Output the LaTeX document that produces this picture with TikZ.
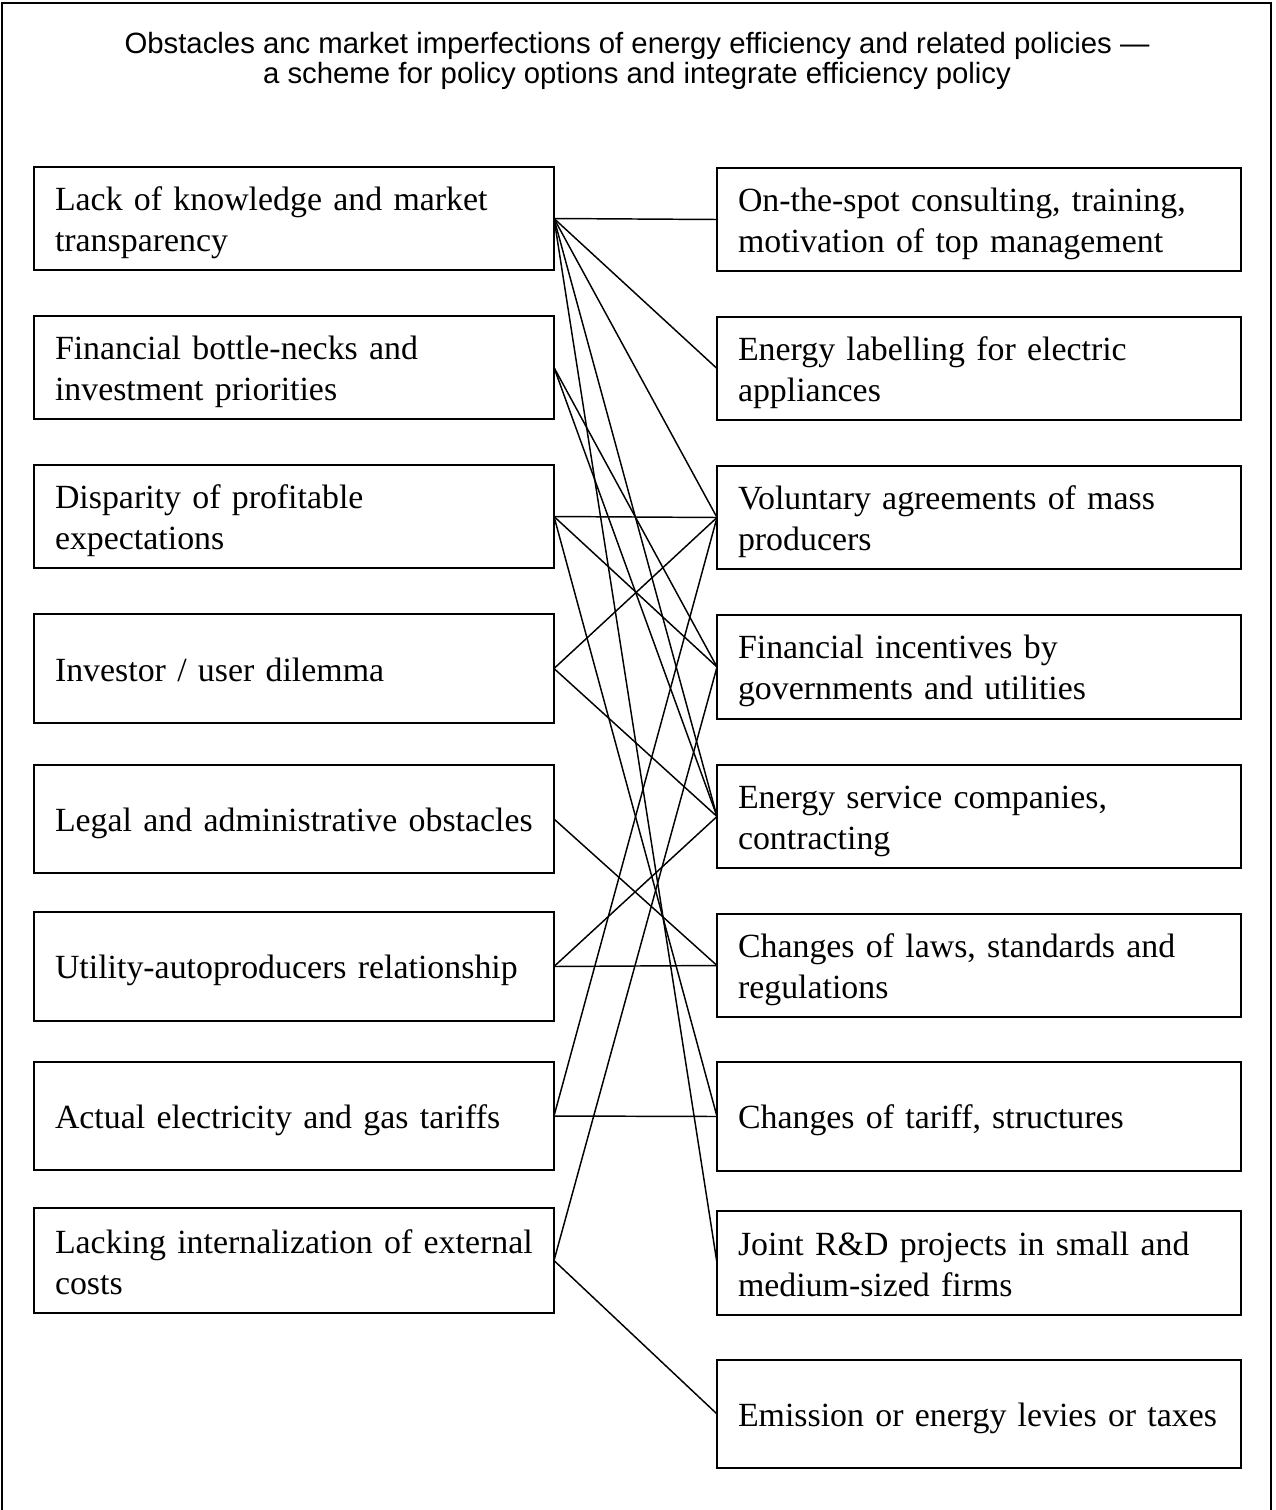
\documentclass[tikz,border=0pt]{standalone}
\usepackage{fontspec}
\setmainfont{Liberation Serif}
\newfontfamily\titlefont{Liberation Sans}
\newcommand\oneline[1]{\mbox{#1}}
\begin{document}
\begin{tikzpicture}[x=0.75pt,y=-0.75pt,
  box/.style={draw,line width=1.6pt,rectangle,inner xsep=15.75pt,inner ysep=0pt,outer sep=0pt,
    align=left,font=\fontsize{25.4}{30.75}\selectfont,
    execute at begin node={\rule{0pt}{24pt}},
    execute at end node={\rule[-4pt]{0pt}{4pt}}},
  lbox/.style={box,minimum width=390pt,text width=358.5pt},
  rbox/.style={box,minimum width=393pt,text width=361.5pt},
  conn/.style={line width=1.1pt}]
\useasboundingbox (0,0) rectangle (1275,1510);
\draw[line width=1pt] (2,1510) -- (2,3) -- (1271,3) -- (1271,1510);
\node[font=\titlefont\fontsize{22}{22.5}\selectfont,align=center] (title) at (637,61)
  {Obstacles anc market imperfections of energy efficiency and related policies —\\
   a scheme for policy options and integrate efficiency policy};
% left column
\node[lbox,minimum height=77.25pt] (L1) at (294,218.5) {\oneline{Lack of knowledge and market}\\transparency};
\node[lbox,minimum height=77.25pt] (L2) at (294,367.5) {\oneline{Financial bottle-necks and}\\investment priorities};
\node[lbox,minimum height=77.25pt] (L3) at (294,516.5) {\oneline{Disparity of profitable}\\expectations};
\node[lbox,minimum height=81.75pt] (L4) at (294,668.5) {\oneline{Investor / user dilemma}};
\node[lbox,minimum height=81pt] (L5) at (294,819) {\oneline{Legal and administrative obstacles}};
\node[lbox,minimum height=81.75pt] (L6) at (294,966.5) {\oneline{Utility-autoproducers relationship}};
\node[lbox,minimum height=81pt] (L7) at (294,1116) {\oneline{Actual electricity and gas tariffs}};
\node[lbox,minimum height=78.75pt] (L8) at (294,1260.5) {\oneline{Lacking internalization of external}\\costs};
% right column
\node[rbox,minimum height=77.25pt] (R1) at (979,219.5) {\oneline{On-the-spot consulting, training,}\\\oneline{motivation of top management}};
\node[rbox,minimum height=77.25pt] (R2) at (979,368.5) {\oneline{Energy labelling for electric}\\appliances};
\node[rbox,minimum height=77.25pt] (R3) at (979,517.5) {\oneline{Voluntary agreements of mass}\\producers};
\node[rbox,minimum height=78pt] (R4) at (979,667) {\oneline{Financial incentives by}\\\oneline{governments and utilities}};
\node[rbox,minimum height=77.25pt] (R5) at (979,816.5) {\oneline{Energy service companies,}\\contracting};
\node[rbox,minimum height=77.25pt] (R6) at (979,965.5) {\oneline{Changes of laws, standards and}\\regulations};
\node[rbox,minimum height=81.75pt] (R7) at (979,1116.5) {\oneline{Changes of tariff, structures}};
\node[rbox,minimum height=78pt] (R8) at (979,1263) {\oneline{Joint R\&D projects in small and}\\\oneline{medium-sized firms}};
\node[rbox,minimum height=81pt] (R9) at (979,1414) {\oneline{Emission or energy levies or taxes}};
% connectors
\foreach \a/\b in {L1/R1,L1/R2,L1/R3,L1/R5,L1/R8,
                   L2/R4,L2/R5,
                   L3/R3,L3/R4,L3/R7,
                   L4/R3,L4/R5,
                   L5/R6,
                   L6/R5,L6/R6,
                   L7/R3,L7/R7,
                   L8/R4,L8/R9}
  \draw[conn] (\a.east) -- (\b.west);
\end{tikzpicture}
\end{document}
